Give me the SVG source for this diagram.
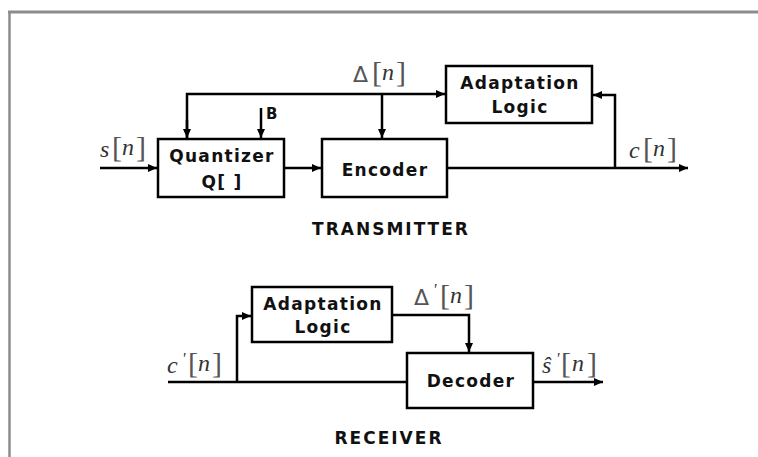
<svg xmlns="http://www.w3.org/2000/svg" width="758" height="457" viewBox="0 0 758 457">
<style>
.box{fill:#fff;stroke:#000;stroke-width:2.5}
.ln{fill:none;stroke:#000;stroke-width:2.5}
.lbl{font-family:"DejaVu Sans",Verdana,sans-serif;font-weight:bold;font-size:17px;letter-spacing:1.3px;fill:#111;text-anchor:middle}
.ttl{font-family:"DejaVu Sans",Verdana,sans-serif;font-weight:bold;font-size:17px;letter-spacing:2px;fill:#111;text-anchor:middle}
.m{font-family:"Liberation Serif","Times New Roman",serif;font-style:italic;font-size:24px;fill:#333}
.b{font-family:"Liberation Serif","Times New Roman",serif;font-style:normal;font-size:30px;fill:#555}
.d{font-family:"DejaVu Sans",sans-serif;font-style:normal;font-size:22px;fill:#555}
</style>
<defs>
<marker id="ah" markerWidth="10" markerHeight="10" refX="9" refY="5" orient="auto" markerUnits="userSpaceOnUse">
<path d="M0,1 L9,5 L0,9 Z" fill="#000"/>
</marker>
</defs>
<rect width="758" height="457" fill="#fff"/>
<g id="frame">
<line x1="8" y1="12" x2="758" y2="12" stroke="#8c8c8c" stroke-width="3"/>
<line x1="9.5" y1="11" x2="9.5" y2="457" stroke="#8c8c8c" stroke-width="2.5"/>
</g>
<g id="connectors">
<line class="ln" x1="100" y1="168" x2="157" y2="168" marker-end="url(#ah)"/>
<line class="ln" x1="284" y1="168" x2="321" y2="168" marker-end="url(#ah)"/>
<line class="ln" x1="447" y1="168" x2="688" y2="168" marker-end="url(#ah)"/>
<polyline class="ln" points="615,168 615,95 593,95" marker-end="url(#ah)"/>
<polyline class="ln" points="187,138 187,94 445,94" marker-end="url(#ah)"/>
<line class="ln" x1="187" y1="120" x2="187" y2="138" marker-end="url(#ah)"/>
<line class="ln" x1="382" y1="94" x2="382" y2="138" marker-end="url(#ah)"/>
<line class="ln" x1="261" y1="108" x2="261" y2="138" marker-end="url(#ah)"/>
<line class="ln" x1="168" y1="382" x2="407" y2="382"/>
<polyline class="ln" points="237,382 237,316 251,316" marker-end="url(#ah)"/>
<polyline class="ln" points="392,315 469,315 469,352" marker-end="url(#ah)"/>
<line class="ln" x1="533" y1="382" x2="603" y2="382" marker-end="url(#ah)"/>
</g>
<g id="quantizer">
<rect class="box" x="158" y="139" width="126" height="58"/>
<text class="lbl" x="222" y="162">Quantizer</text>
<text class="lbl" x="222" y="188">Q[ ]</text>
</g>
<g id="encoder">
<rect class="box" x="322" y="139" width="125" height="58"/>
<text class="lbl" x="385" y="176">Encoder</text>
</g>
<g id="adapt-tx">
<rect class="box" x="446" y="66" width="146" height="57"/>
<text class="lbl" x="520" y="89">Adaptation</text>
<text class="lbl" x="520" y="113">Logic</text>
</g>
<g id="adapt-rx">
<rect class="box" x="252" y="287" width="140" height="55"/>
<text class="lbl" x="323" y="310">Adaptation</text>
<text class="lbl" x="323" y="333">Logic</text>
</g>
<g id="decoder">
<rect class="box" x="407" y="353" width="126" height="55"/>
<text class="lbl" x="471" y="387">Decoder</text>
</g>
<g id="labels">
<text class="lbl" x="266" y="119" style="font-size:15px;letter-spacing:0;text-anchor:start">B</text>
<text x="0" y="0"><tspan class="d" x="353" y="82">Δ</tspan><tspan class="b" x="372" y="82">[</tspan><tspan class="m" x="382" y="80">n</tspan><tspan class="b" x="396" y="82">]</tspan></text>
<text x="0" y="0"><tspan class="m" x="100" y="157">s</tspan><tspan class="b" x="112" y="157">[</tspan><tspan class="m" x="122" y="155">n</tspan><tspan class="b" x="136" y="157">]</tspan></text>
<text x="0" y="0"><tspan class="m" x="629" y="158">c</tspan><tspan class="b" x="643" y="158">[</tspan><tspan class="m" x="653" y="156">n</tspan><tspan class="b" x="667" y="158">]</tspan></text>
<text x="0" y="0"><tspan class="m" x="167" y="373">c</tspan><tspan class="m" x="182" y="364" style="font-size:16px">'</tspan><tspan class="b" x="188" y="373">[</tspan><tspan class="m" x="198" y="371">n</tspan><tspan class="b" x="212" y="373">]</tspan></text>
<text x="0" y="0"><tspan class="d" x="414" y="305">Δ</tspan><tspan class="m" x="433" y="295" style="font-size:16px">'</tspan><tspan class="b" x="440" y="305">[</tspan><tspan class="m" x="450" y="303">n</tspan><tspan class="b" x="464" y="305">]</tspan></text>
<text x="0" y="0"><tspan class="m" x="542" y="373">ŝ</tspan><tspan class="m" x="556" y="364" style="font-size:16px">'</tspan><tspan class="b" x="561" y="373">[</tspan><tspan class="m" x="572" y="371">n</tspan><tspan class="b" x="587" y="373">]</tspan></text>
<text class="ttl" x="391" y="235">TRANSMITTER</text>
<text class="ttl" x="389" y="444">RECEIVER</text>
</g>
</svg>
